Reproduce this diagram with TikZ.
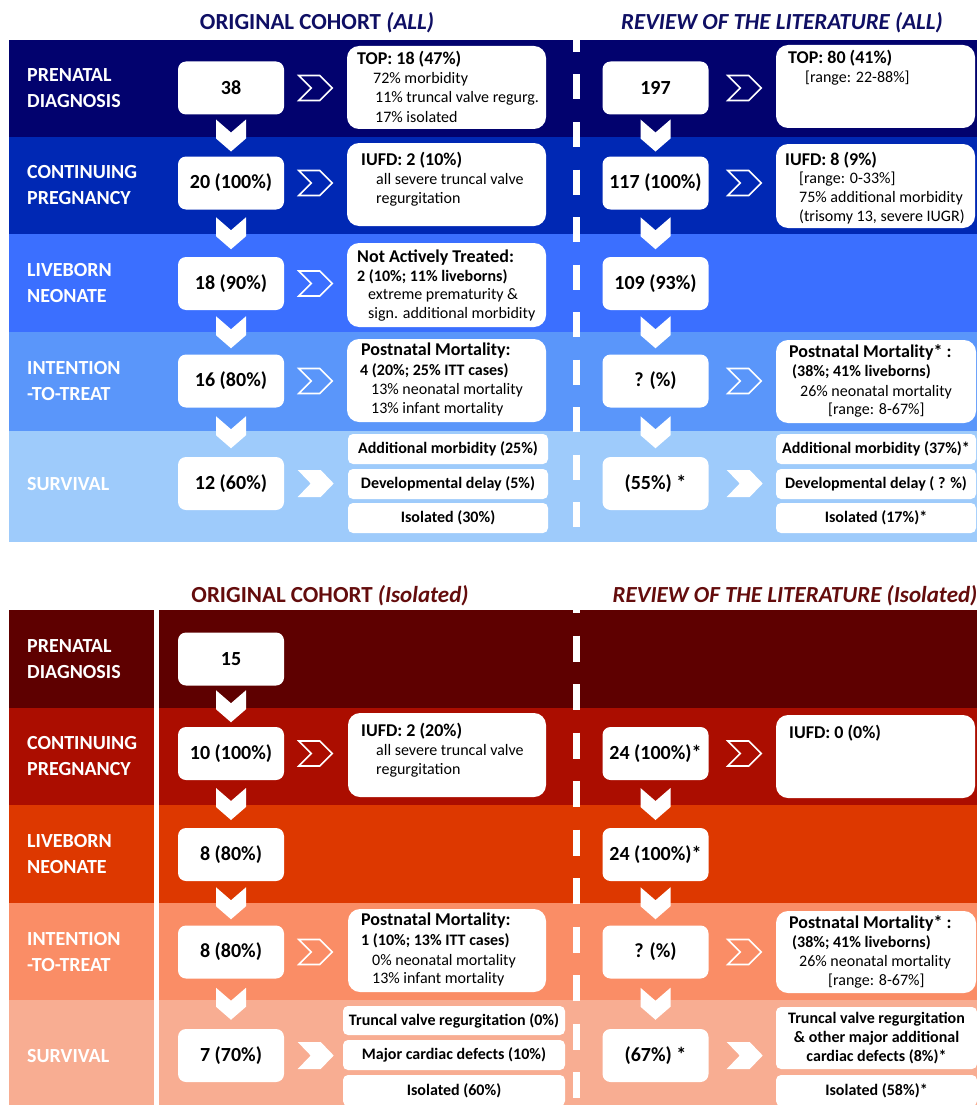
\documentclass[tikz,border=0pt]{standalone}
\usepackage{fontspec}
\setmainfont{Carlito}
\usetikzlibrary{calc}
\definecolor{tbA}{RGB}{2,2,110}
\definecolor{tbB}{RGB}{0,40,180}
\definecolor{tbC}{RGB}{59,111,255}
\definecolor{tbD}{RGB}{90,150,250}
\definecolor{tbE}{RGB}{158,203,251}
\definecolor{ttop}{RGB}{15,15,100}
\definecolor{bbA}{RGB}{94,0,0}
\definecolor{bbB}{RGB}{171,13,0}
\definecolor{bbC}{RGB}{221,56,0}
\definecolor{bbD}{RGB}{250,141,102}
\definecolor{bbE}{RGB}{248,173,146}
\definecolor{tbot}{RGB}{100,12,12}
\newcommand\rbox[7]{\node[#1, minimum width={(#5-#3)*1pt}, minimum height={(#6-#4)*1pt}] (#2) at ({(#3+#5)/2},{(#4+#6)/2}) {#7};}
\begin{document}
\begin{tikzpicture}[x=1pt,y=-1pt,
  cnt/.style={rectangle, rounded corners=8pt, fill=white, minimum width=106pt, minimum height=53pt, inner sep=0pt, font=\bfseries\fontsize{20}{24}\selectfont},
  info/.style={rectangle, rounded corners=12pt, fill=white, inner sep=0pt},
  surv/.style={rectangle, rounded corners=5pt, fill=white, inner sep=0pt, align=center, font=\bfseries\fontsize{16}{19}\selectfont},
  lbl/.style={anchor=west, align=left, inner sep=0pt, text=white, font=\bfseries\fontsize{20}{26}\selectfont},
  ttl/.style={anchor=base west, inner sep=0pt, font=\bfseries\fontsize{18}{21}\selectfont},
  bdy/.style={anchor=base west, inner sep=0pt, font=\fontsize{16}{19}\selectfont},
  bbd/.style={anchor=base west, inner sep=0pt, font=\bfseries\fontsize{16}{19}\selectfont},
  head/.style={inner sep=0pt, font=\bfseries\fontsize{23}{27}\selectfont},
  sepline/.style={white, line width=7pt},
  dchev/.pic={\fill[white] (-15,0) -- (0,13) -- (15,0) -- (15,19) -- (0,32) -- (-15,19) -- cycle;},
  ochev/.pic={\draw[white, line width=1.6pt] (-17,-12.5) -- (4,-12.5) -- (16.5,0) -- (4,12.5) -- (-17,12.5) -- (-4.5,0) -- cycle;},
  schev/.pic={\fill[white] (-18,-13.5) -- (5,-13.5) -- (18,0) -- (5,13.5) -- (-18,13.5) -- (-5,0) -- cycle;}
]
\clip (0,0) rectangle (977,1105);
\fill[white] (0,0) rectangle (977,1105);

% ---------------- TOP SECTION ----------------
\node[head, text=ttop] (h1) at (317,23) {ORIGINAL COHORT \textit{(ALL)}};
\node[head, text=ttop] (h2) at (782,23) {\textit{REVIEW OF THE LITERATURE (ALL)}};

\fill[tbA] (8.5,40) rectangle (977,137);
\fill[tbB] (8.5,137) rectangle (977,234);
\fill[tbC] (8.5,234) rectangle (977,332);
\fill[tbD] (8.5,332) rectangle (977,431);
\fill[tbE] (8.5,431) rectangle (977,542);
\draw[sepline, dash pattern=on 25pt off 22.5pt, dash phase=13pt] (576.5,40) -- (576.5,542);

\node[lbl] (L1) at (27,88) {PRENATAL\\DIAGNOSIS};
\node[lbl] (L2) at (27,185.5) {CONTINUING\\PREGNANCY};
\node[lbl] (L3) at (27,283) {LIVEBORN\\NEONATE};
\node[lbl] (L4) at (27,381) {INTENTION\\-TO-TREAT};
\node[lbl] (L5) at (27,484) {SURVIVAL};

\node[cnt] (a1) at (231,88) {38};
\node[cnt] (a2) at (231,183) {20 (100\%)};
\node[cnt] (a3) at (231,283.5) {18 (90\%)};
\node[cnt] (a4) at (231,381) {16 (80\%)};
\node[cnt] (a5) at (231,483.5) {12 (60\%)};
\node[cnt] (b1) at (655.5,88) {197};
\node[cnt] (b2) at (655.5,183) {117 (100\%)};
\node[cnt] (b3) at (655.5,283.5) {109 (93\%)};
\node[cnt] (b4) at (655.5,381) {? (\%)};
\node[cnt] (b5) at (655.5,483.5) {(55\%) *};

\foreach \u/\v in {a1/a2,a2/a3,a3/a4,a4/a5,b1/b2,b2/b3,b3/b4,b4/b5}
  \pic at ($(\u.south)!0.5!(\v.north)+(0,-16)$) {dchev};
\foreach \u in {a1,a2,a3,a4} \pic at ($(\u.east)+(31.5,0)$) {ochev};
\foreach \u in {b1,b2,b4} \pic at ($(\u.east)+(36,0)$) {ochev};
\pic at ($(a5.east)+(31.5,0)$) {schev};
\pic at ($(b5.east)+(36,0)$) {schev};

\rbox{info}{ia1}{347}{46}{546}{129}{}
\rbox{info}{ia2}{347}{143}{546}{226}{}
\rbox{info}{ia3}{347}{243}{546}{327}{}
\rbox{info}{ia4}{347}{339}{546}{422}{}
\rbox{info}{ib1}{776}{45}{975}{128}{}
\rbox{info}{ib2}{776}{144}{975}{228}{}
\rbox{info}{ib4}{776}{340}{976}{423}{}

\rbox{surv}{sa1}{348}{434}{548}{464}{Additional morbidity (25\%)}
\rbox{surv}{sa2}{348}{469}{548}{499}{Developmental delay (5\%)}
\rbox{surv}{sa3}{348}{503}{548}{533}{Isolated (30\%)}
\rbox{surv}{sb1}{776}{434}{976}{464}{Additional morbidity (37\%)*}
\rbox{surv}{sb2}{776}{469}{976}{499}{Developmental delay ( ? \%)}
\rbox{surv}{sb3}{776}{503}{976}{533}{Isolated (17\%)*}

\node[ttl] (t01) at (357,65) {TOP: 18 (47\%)};
\node[bdy] (t02) at (373,84) {72\% morbidity};
\node[bdy] (t03) at (375,103) {11\% truncal valve regurg.};
\node[bdy] (t04) at (375,123) {17\% isolated};
\node[ttl] (t05) at (361,165) {IUFD: 2 (10\%)};
\node[bdy] (t06) at (376,184) {all severe truncal valve};
\node[bdy] (t07) at (376,203) {regurgitation};
\node[ttl] (t08) at (357,262) {Not Actively Treated:};
\node[bbd] (t09) at (357,281) {2 (10\%; 11\% liveborns)};
\node[bdy] (t10) at (368,299) {extreme prematurity \&};
\node[bdy] (t11) at (368,318) {sign. additional morbidity};
\node[ttl] (t12) at (361,355) {Postnatal Mortality:};
\node[bbd] (t13) at (360,375) {4 (20\%; 25\% ITT cases)};
\node[bdy] (t14) at (371,394) {13\% neonatal mortality};
\node[bdy] (t15) at (371,413) {13\% infant mortality};
\node[ttl] (t16) at (788,64) {TOP: 80 (41\%)};
\node[bdy] (t17) at (805,83) {[range: 22-88\%]};
\node[ttl] (t18) at (785,165) {IUFD: 8 (9\%)};
\node[bdy] (t19) at (799,183) {[range: 0-33\%]};
\node[bdy] (t20) at (799,202) {75\% additional morbidity};
\node[bdy] (t21) at (799,221) {(trisomy 13, severe IUGR)};
\node[ttl] (t22) at (789,357) {Postnatal Mortality* :};
\node[bbd] (t23) at (792,376) {(38\%; 41\% liveborns)};
\node[bdy] (t24) at (800,396) {26\% neonatal mortality};
\node[bdy] (t25) at (828,414) {[range: 8-67\%]};

% ---------------- BOTTOM SECTION ----------------
\node[head, text=tbot] (h3) at (330,596) {ORIGINAL COHORT \textit{(Isolated)}};
\node[head, text=tbot] (h4) at (795,596) {\textit{REVIEW OF THE LITERATURE (Isolated)}};

\fill[bbA] (9,610) rectangle (977,708);
\fill[bbB] (9,708) rectangle (977,805);
\fill[bbC] (9,805) rectangle (977,903);
\fill[bbD] (9,903) rectangle (977,1000);
\fill[bbE] (9,1000) rectangle (977,1106);
\fill[white] (154,610) rectangle (159,1106);
\draw[sepline, dash pattern=on 26pt off 22.5pt, dash phase=23pt] (576.5,610) -- (576.5,1106);

\node[lbl] (M1) at (27,659.5) {PRENATAL\\DIAGNOSIS};
\node[lbl] (M2) at (27,756) {CONTINUING\\PREGNANCY};
\node[lbl] (M3) at (27,854) {LIVEBORN\\NEONATE};
\node[lbl] (M4) at (27,951.5) {INTENTION\\-TO-TREAT};
\node[lbl] (M5) at (27,1056) {SURVIVAL};

\node[cnt] (c1) at (231,659) {15};
\node[cnt] (c2) at (231,753.5) {10 (100\%)};
\node[cnt] (c3) at (231,854.5) {8 (80\%)};
\node[cnt] (c4) at (231,952) {8 (80\%)};
\node[cnt] (c5) at (231,1055.5) {7 (70\%)};
\node[cnt] (d2) at (655.5,753.5) {24 (100\%)*};
\node[cnt] (d3) at (655.5,854.5) {24 (100\%)*};
\node[cnt] (d4) at (655.5,952) {? (\%)};
\node[cnt] (d5) at (655.5,1055.5) {(67\%) *};

\foreach \u/\v in {c1/c2,c2/c3,c3/c4,c4/c5,d2/d3,d3/d4,d4/d5}
  \pic at ($(\u.south)!0.5!(\v.north)+(0,-16)$) {dchev};
\foreach \u in {c2,c4} \pic at ($(\u.east)+(31.5,0)$) {ochev};
\foreach \u in {d2,d4} \pic at ($(\u.east)+(36,0)$) {ochev};
\pic at ($(c5.east)+(31.5,0)$) {schev};
\pic at ($(d5.east)+(36,0)$) {schev};

\rbox{info}{ic2}{348}{713}{546}{797}{}
\rbox{info}{ic4}{348}{909}{546}{992}{}
\rbox{info}{id2}{776}{715}{975}{798}{}
\rbox{info}{id4}{776}{911}{976}{993}{}

\rbox{surv}{sc1}{343}{1006}{565}{1035}{Truncal valve regurgitation (0\%)}
\rbox{surv}{sc2}{343}{1040}{565}{1070}{Major cardiac defects (10\%)}
\rbox{surv}{sc3}{343}{1075}{565}{1106}{Isolated (60\%)}
\rbox{surv}{sd1}{776}{1007}{977}{1069}{Truncal valve regurgitation\\\& other major additional\\cardiac defects (8\%)*}
\rbox{surv}{sd2}{776}{1075}{977}{1106}{Isolated (58\%)*}

\node[ttl] (t26) at (361,736) {IUFD: 2 (20\%)};
\node[bdy] (t27) at (376,755) {all severe truncal valve};
\node[bdy] (t28) at (376,774) {regurgitation};
\node[ttl] (t29) at (361,925) {Postnatal Mortality:};
\node[bbd] (t30) at (361,945) {1 (10\%; 13\% ITT cases)};
\node[bdy] (t31) at (372,965) {0\% neonatal mortality};
\node[bdy] (t32) at (372,983) {13\% infant mortality};
\node[ttl] (t33) at (789,738) {IUFD: 0 (0\%)};
\node[ttl] (t34) at (789,928) {Postnatal Mortality* :};
\node[bbd] (t35) at (792,947) {(38\%; 41\% liveborns)};
\node[bdy] (t36) at (799,966) {26\% neonatal mortality};
\node[bdy] (t37) at (828,985) {[range: 8-67\%]};
\end{tikzpicture}
\end{document}
